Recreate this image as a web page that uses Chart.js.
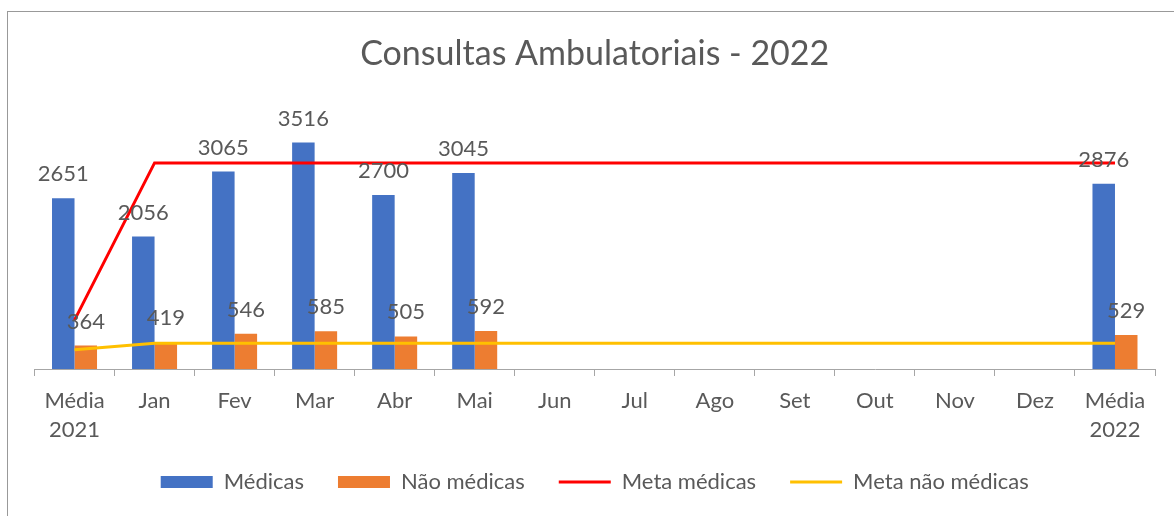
<!DOCTYPE html>
<html><head><meta charset="utf-8">
<script src="https://cdn.jsdelivr.net/npm/chart.js@4.4.1/dist/chart.umd.min.js"></script>
<style>
html,body{margin:0;padding:0;background:#fff;overflow:hidden;}
#wrap{position:relative;width:1174px;height:516px;}
#frame{position:absolute;left:7px;top:11px;width:1200px;height:600px;border:1px solid #999;box-sizing:border-box;}
canvas{position:absolute;left:0;top:0;}
</style></head><body>
<div id="wrap"><div id="frame"></div><canvas id="c" width="1174" height="516"></canvas></div>
<script>
const categories = [['Média','2021'],'Jan','Fev','Mar','Abr','Mai','Jun','Jul','Ago','Set','Out','Nov','Dez',['Média','2022']];
const medicas = [2651,2056,3065,3516,2700,3045,null,null,null,null,null,null,null,2876];
const naoMedicas = [364,419,546,585,505,592,null,null,null,null,null,null,null,529];
const metaMedicas = [760,3200,3200,3200,3200,3200,3200,3200,3200,3200,3200,3200,3200,3200];
const metaNaoMedicas = [300,400,400,400,400,400,400,400,400,400,400,400,400,400];
const seriesNames = ['Médicas','Não médicas','Meta médicas','Meta não médicas'];
const titleText = 'Consultas Ambulatoriais - 2022';

const FONT = 'Lato';
const GRAY = '#595959';

const valueLabels = {
  id: 'valueLabels',
  afterDatasetsDraw(chart) {
    const ctx = chart.ctx;
    ctx.save();
    ctx.font = '22px ' + FONT;
    ctx.fillStyle = GRAY;
    ctx.textAlign = 'center';
    ctx.textBaseline = 'alphabetic';
    [0, 1].forEach(di => {
      const meta = chart.getDatasetMeta(di);
      const data = chart.data.datasets[di].data;
      meta.data.forEach((el, i) => {
        const v = data[i];
        if (v === null || v === undefined) return;
        ctx.fillText(String(v), el.x, el.y - 17);
      });
    });
    ctx.restore();
  }
};

// let the two-line category labels extend below the x-scale box (no clipping)
const labelRoom = {
  id: 'labelRoom',
  afterLayout(chart) {
    const x = chart.scales.x;
    x.bottom = x.top + 92;
  }
};

new Chart(document.getElementById('c'), {
  type: 'bar',
  data: {
    labels: categories,
    datasets: [
      { type: 'bar', label: seriesNames[0], data: medicas, backgroundColor: '#4472C4', borderWidth: 0, categoryPercentage: 0.5625, barPercentage: 1, order: 1 },
      { type: 'bar', label: seriesNames[1], data: naoMedicas, backgroundColor: '#ED7D31', borderWidth: 0, categoryPercentage: 0.5625, barPercentage: 1, order: 1 },
      { type: 'line', label: seriesNames[2], data: metaMedicas, borderColor: '#FF0000', backgroundColor: '#FF0000', borderWidth: 3, pointRadius: 0, tension: 0, fill: false, order: 0 },
      { type: 'line', label: seriesNames[3], data: metaNaoMedicas, borderColor: '#FFC000', backgroundColor: '#FFC000', borderWidth: 3, pointRadius: 0, tension: 0, fill: false, order: 0 }
    ]
  },
  options: {
    responsive: false,
    devicePixelRatio: 1,
    animation: false,
    layout: { padding: { left: 34.5, right: 19, top: 0, bottom: 13 } },
    scales: {
      x: {
        offset: true,
        grid: { display: true, drawOnChartArea: false, drawTicks: true, tickLength: 7, color: '#A6A6A6', offset: true },
        border: { display: true, color: '#A6A6A6', width: 1 },
        ticks: { color: GRAY, font: { family: FONT, size: 22, lineHeight: 1.35 }, padding: 9.6, maxRotation: 0, autoSkip: false },
        afterFit: s => { s.height = 68; }
      },
      y: { display: false, min: 0, max: 4000 }
    },
    plugins: {
      title: { display: true, text: titleText, color: GRAY, font: { family: FONT, size: 34, weight: 'normal', lineHeight: 1.2 }, padding: { top: 34.1, bottom: 36.5 } },
      legend: {
        position: 'bottom',
        labels: {
          usePointStyle: true,
          pointStyleWidth: 52,
          boxHeight: 12,
          padding: 34,
          color: GRAY,
          font: { family: FONT, size: 22 },
          generateLabels: chart => chart.data.datasets.map((ds, i) => {
            const isLine = ds.type === 'line';
            return {
              text: ds.label,
              fillStyle: isLine ? 'rgba(0,0,0,0)' : ds.backgroundColor,
              strokeStyle: isLine ? ds.borderColor : ds.backgroundColor,
              lineWidth: isLine ? 3 : 0,
              pointStyle: isLine ? 'line' : 'rect',
              fontColor: GRAY,
              hidden: false,
              datasetIndex: i
            };
          })
        }
      },
      tooltip: { enabled: false }
    }
  },
  plugins: [valueLabels, labelRoom]
});
</script>
</body></html>
